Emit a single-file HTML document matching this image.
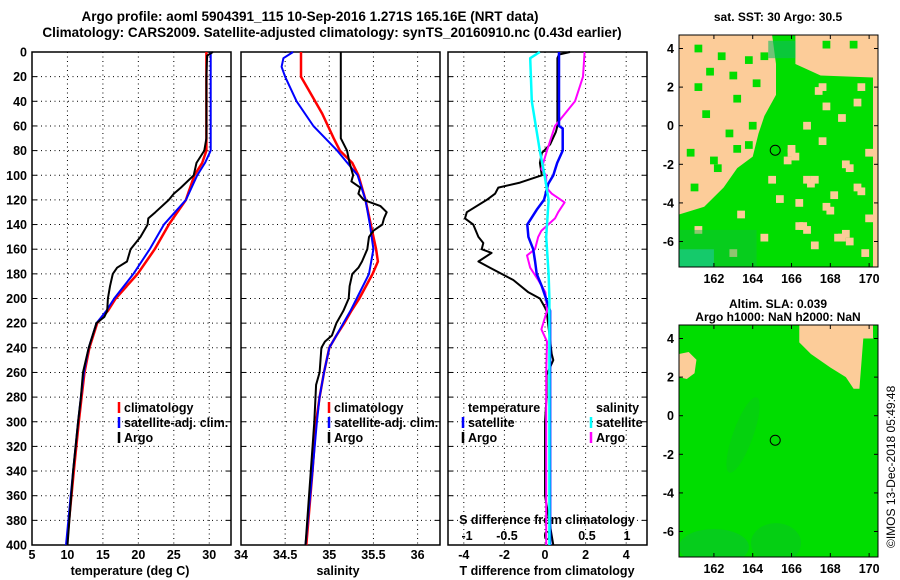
<!DOCTYPE html>
<html><head><meta charset="utf-8">
<style>
html,body{margin:0;padding:0;background:#fff;}
svg{display:block;font-family:"Liberation Sans",Arial,sans-serif;font-weight:bold;}
</style></head>
<body>
<svg id="chart" width="900" height="580" viewBox="0 0 900 580" xmlns="http://www.w3.org/2000/svg">
<defs>
<clipPath id="clipMap1"><rect x="679" y="35" width="199" height="232"/></clipPath>
<clipPath id="clipMap2"><rect x="679" y="325" width="199" height="232"/></clipPath>
</defs>
<g id="static">
<text x="310" y="21" text-anchor="middle" font-size="13.5">Argo profile: aoml 5904391_115 10-Sep-2016 1.271S 165.16E (NRT data)</text>
<text x="332" y="37" text-anchor="middle" font-size="13.5">Climatology: CARS2009. Satellite-adjusted climatology: synTS_20160910.nc (0.43d earlier)</text>
<text x="130" y="575" text-anchor="middle" font-size="12.5">temperature (deg C)</text>
<text x="338" y="575" text-anchor="middle" font-size="12.5">salinity</text>
<text x="547" y="575" text-anchor="middle" font-size="12.5">T difference from climatology</text>
<text x="547" y="524" text-anchor="middle" font-size="12.5">S difference from climatology</text>
</g>
<g id="plots"></g>
<g id="maps"></g>
</svg>
<script>
// ---------- data ----------
const depthTicks=[0,20,40,60,80,100,120,140,160,180,200,220,240,260,280,300,320,340,360,380,400];
const tempTicks=[5,10,15,20,25,30];
const salTicks=[34,34.5,35,35.5,36];
const salTickLabels=["34","34.5","35","35.5","36"];
const tdiffTicks=[-4,-2,0,2,4];
const sdiffTicks=[-1,-0.5,0,0.5,1];
const sdiffTickLabels=["-1","-0.5","0","0.5","1"];

const climTDepth=[0,80,90,100,120,140,160,180,200,210,220,240,260,280,300,340,400];
const climT=[29.6,29.6,29.0,27.9,26.7,24.3,22.3,19.9,16.8,15.7,14.2,13.1,12.4,12.0,11.6,10.9,9.9];
const satTDepth=[0,80,90,100,120,140,160,180,200,210,220,240,260,280,300,340,400];
const satT=[30.2,30.2,29.4,28.3,26.7,23.6,21.6,19.3,16.6,15.5,14.1,13.0,12.3,11.9,11.5,10.8,9.8];
const argoTDepth=[0,3,20,70,80,90,100,110,115,120,130,135,140,150,160,170,175,180,190,200,210,215,220,240,260,280,300,340,400];
const argoT=[30.5,29.7,29.6,29.6,29.3,28.2,27.8,26.0,25.0,24.3,22.4,21.4,21.3,20.3,18.9,18.4,17.0,16.4,16.0,15.7,15.6,15.2,14.1,13.0,12.2,11.9,11.5,10.8,10.0];

const climSDepth=[0,20,30,50,70,80,90,100,120,140,160,170,180,200,210,220,230,240,260,280,300,340,400];
const climS=[34.68,34.68,34.76,34.92,35.05,35.12,35.26,35.33,35.41,35.47,35.53,35.55,35.49,35.34,35.25,35.17,35.08,35.0,34.94,34.89,34.85,34.81,34.74];
const satSDepth=[0,5,12,20,40,60,80,100,120,140,160,180,200,210,220,230,240,260,280,300,340,400];
const satS=[34.59,34.48,34.46,34.5,34.63,34.82,35.09,35.32,35.41,35.46,35.5,35.45,35.31,35.24,35.16,35.08,35.0,34.94,34.89,34.86,34.81,34.73];
const argoSDepth=[0,70,80,90,100,105,110,115,120,125,130,135,140,145,150,160,170,175,180,190,200,210,220,230,235,240,260,270,300,340,400];
const argoS=[35.13,35.13,35.2,35.23,35.27,35.25,35.35,35.33,35.39,35.58,35.65,35.62,35.6,35.5,35.45,35.43,35.37,35.33,35.26,35.23,35.22,35.16,35.08,35.03,34.95,34.91,34.89,34.85,34.83,34.79,34.73];

const satTdDepth=[0,60,62,80,90,100,107,120,128,140,150,160,170,180,190,200,210,400];
const satTd=[0.69,0.69,0.87,0.87,0.6,0.41,0.16,-0.05,-0.41,-0.87,-0.82,-0.58,-0.49,-0.41,-0.16,0.05,0.25,0.25];
const argoTdDepth=[0,2,5,60,65,75,82,90,100,106,110,115,120,130,135,140,150,155,160,163,170,175,185,195,200,205,210,245,250,262,280,300,360,400];
const argoTd=[1.23,0.69,0.61,0.61,0.53,0.25,-0.16,-0.25,-0.16,-1.23,-2.3,-2.46,-2.87,-3.85,-3.94,-3.53,-3.28,-3.04,-3.12,-2.63,-3.28,-2.71,-1.56,-0.82,-0.25,-0.08,0.08,0.33,0.41,0.08,0.08,0.0,0.0,0.41];
const satSdDepth=[0,5,40,80,100,120,150,180,200,400];
const satSd=[-0.09,-0.21,-0.19,-0.09,-0.03,0.02,-0.01,0.02,0.03,0.03];
const argoSdDepth=[0,20,40,60,80,95,100,110,115,122,130,135,145,150,160,165,175,185,195,210,225,235,260,300,400];
const argoSd=[0.47,0.45,0.35,0.1,0.0,-0.07,-0.01,-0.01,0.06,0.22,0.14,0.1,-0.07,-0.11,-0.15,-0.25,-0.21,-0.11,-0.02,0.0,-0.07,0.0,-0.01,-0.01,-0.01];

// ---------- axes ----------
const NS='http://www.w3.org/2000/svg';
const Y0=52,Y1=545;
const yD=d=>Y0+d*(Y1-Y0)/400;
const p1={x0:32,x1:231};
const p2={x0:241,x1:440};
const p3={x0:448,x1:647};
const xT=v=>p1.x0+(v-5)*7.09;
const xS=v=>p2.x0+(v-34)*88.3;
const xTd=v=>545+v*20.3;
const xSd=v=>547+v*80;
const plots=document.getElementById('plots');
function mk(tag,attrs,parent){const e=document.createElementNS(NS,tag);for(const k in attrs)e.setAttribute(k,attrs[k]);(parent||plots).appendChild(e);return e;}

function panel(p,name,xf,ticks,labels,showY){
  const g=mk('g',{});
  
  
  ticks.forEach((t,i)=>{
    const x=xf(t);
    if(x>p.x0+1&&x<p.x1-1){const l=mk('line',{x1:x,x2:x,y1:Y0,y2:Y1,stroke:'#000','stroke-width':1,'stroke-dasharray':'1,3.5'},g);
      
      }
    if(labels){const tx=mk('text',{x:x,y:Y1+14,'text-anchor':'middle','font-size':12.5},g);tx.textContent=labels[i];
      
      }
  });
  depthTicks.forEach(d=>{
    const y=yD(d);
    if(d>0&&d<400){const l=mk('line',{x1:p.x0,x2:p.x1,y1:y,y2:y,stroke:'#000','stroke-width':1,'stroke-dasharray':'1,3.5'},g);
      
      }
    mk('line',{x1:p.x1-5,x2:p.x1,y1:y,y2:y,stroke:'#000','stroke-width':1},g);
    mk('line',{x1:p.x0,x2:p.x0+5,y1:y,y2:y,stroke:'#000','stroke-width':1},g);
    if(showY){const tx=mk('text',{x:27,y:y+4.5,'text-anchor':'end','font-size':12.5},g);tx.textContent=d;
      
      }
  });
  const r=mk('rect',{x:p.x0,y:Y0,width:p.x1-p.x0,height:Y1-Y0,fill:'none',stroke:'#000','stroke-width':1.5},g);
  
  
  return g;
}
function series(g,depths,vals,xf,color,name,w){
  const pts=depths.map((d,i)=>xf(vals[i]).toFixed(1)+','+yD(d).toFixed(1)).join(' ');
  const pl=mk('polyline',{points:pts,fill:'none',stroke:color,'stroke-width':w||2,'stroke-linejoin':'round'},g);
  
  
}
function legend(g,x,y,items){
  items.forEach((it,i)=>{
    const yy=y+i*15;
    if(it[1]){mk('line',{x1:x,x2:x,y1:yy-10,y2:yy+1,stroke:it[1],'stroke-width':2.5},g);}
    const t=mk('text',{x:x+5,y:yy,'font-size':12.5},g);t.textContent=it[0];
    
    
  });
}
const g1=panel(p1,'temperature-panel',xT,tempTicks,tempTicks.map(String),true);
series(g1,climTDepth,climT,xT,'#f00','climatology-temperature-line',2.5);
series(g1,satTDepth,satT,xT,'#00f','satellite-temperature-line',2);
series(g1,argoTDepth,argoT,xT,'#000','argo-temperature-line',2);
legend(g1,119,412,[['climatology','#f00'],['satellite-adj. clim.','#00f'],['Argo','#000']]);

const g2=panel(p2,'salinity-panel',xS,salTicks,salTickLabels,false);
series(g2,climSDepth,climS,xS,'#f00','climatology-salinity-line',2.5);
series(g2,satSDepth,satS,xS,'#00f','satellite-salinity-line',2);
series(g2,argoSDepth,argoS,xS,'#000','argo-salinity-line',2);
legend(g2,329,412,[['climatology','#f00'],['satellite-adj. clim.','#00f'],['Argo','#000']]);

const g3=panel(p3,'difference-panel',xTd,tdiffTicks,tdiffTicks.map(String),false);
sdiffTicks.forEach((s,i)=>{const t=mk('text',{x:xSd(s),y:540,'text-anchor':'middle','font-size':12.5},g3);t.textContent=sdiffTickLabels[i];
  
  });
series(g3,argoTdDepth,argoTd,xTd,'#000','argo-t-difference-line',2);
series(g3,argoSdDepth,argoSd,xSd,'#f0f','argo-s-difference-line',2);
series(g3,satTdDepth,satTd,xTd,'#00f','satellite-t-difference-line',2.5);
series(g3,satSdDepth,satSd,xSd,'#0ff','satellite-s-difference-line',2.5);
legend(g3,463,412,[['temperature',null],['satellite','#00f'],['Argo','#000']]);
legend(g3,591,412,[['salinity',null],['satellite','#0ff'],['Argo','#f0f']]);

// ---------- maps ----------
const maps=document.getElementById('maps');
const lonTicks=[162,164,166,168,170];
const latTicks=[4,2,0,-2,-4,-6];
const argoLon=165.16, argoLat=-1.271;
function mapPanel(y0,name,title1,title2,clip,drawFill){
  const X0=679,X1=878,Y1m=y0+232;
  const xL=l=>X0+(l-160.2)*19.4;
  const yL=l=>y0+(4.7-l)*19.3;
  const g=mk('g',{},maps);
  
  
  const fg=mk('g',{'clip-path':'url(#'+clip+')'},g);
  drawFill(fg,xL,yL,X0,y0,X1,Y1m);
  lonTicks.forEach(l=>{const x=xL(l);
    mk('line',{x1:x,x2:x,y1:Y1m,y2:Y1m-4,stroke:'#000'},g);mk('line',{x1:x,x2:x,y1:y0,y2:y0+4,stroke:'#000'},g);
    const t=mk('text',{x:x,y:Y1m+16,'text-anchor':'middle','font-size':12.5},g);t.textContent=l;
    
    });
  latTicks.forEach(l=>{const y=yL(l);
    mk('line',{x1:X0,x2:X0+4,y1:y,y2:y,stroke:'#000'},g);mk('line',{x1:X1,x2:X1-4,y1:y,y2:y,stroke:'#000'},g);
    const t=mk('text',{x:674,y:y+4.5,'text-anchor':'end','font-size':12.5},g);t.textContent=l;
    
    });
  mk('rect',{x:X0,y:y0,width:X1-X0,height:Y1m-y0,fill:'none',stroke:'#000','stroke-width':1},g);
  const c=mk('circle',{cx:xL(argoLon),cy:yL(argoLat),r:5,fill:'none',stroke:'#000','stroke-width':1},g);
  
  
  const t1=mk('text',{x:778,y:title2?y0-17:y0-14,'text-anchor':'middle','font-size':12},g);t1.textContent=title1;
  
  
  if(title2){const t2=mk('text',{x:778,y:y0-4,'text-anchor':'middle','font-size':12},g);t2.textContent=title2;
    
    }
}
const ORANGE='#fccc99',GREEN='#00dd00';
const C=0.2; // cell size in degrees
mapPanel(35,'sst-map','sat. SST: 30 Argo: 30.5',null,'clipMap1',(g,xL,yL,X0,Y0m,X1,Y1m)=>{
  mk('rect',{x:X0,y:Y0m,width:X1-X0,height:Y1m-Y0m,fill:ORANGE},g);
  const poly=[[165,4.7],[166.2,4.7],[166.2,3.2],[167.5,2.6],[170.2,2.5],[170.2,-7.3],[160.2,-7.3],[160.2,-4.6],[161.5,-4.2],[162.5,-3.2],[163.2,-2.2],[164,-1.6],[164.3,-0.4],[164.6,0.5],[165.2,1.6],[165.2,3.2]];
  mk('polygon',{points:poly.map(p=>xL(p[0])+','+yL(p[1])).join(' '),fill:GREEN},g);
  const holes=[[166.6,-2.6],[166.8,-2.8],[167,-2.6],[168.6,-1.8],[168.8,-2],[166.2,-5],[166.4,-5],[166.6,-5.2],[168.2,-5.6],[168.4,-5.6],[168.6,-5.4],[168.8,-5.8],[167.6,-4],[167.8,-4.2],[169.2,-3],[169.4,-3.2],[161,-5.2],[163.2,-4.4],[167.2,2],[167.4,2.2],[169.2,1.4],[165.8,-1],[165.8,-1.2],[166,-1.4],[165.6,-1.6],[166.6,0.2],[167.4,-0.6],[169.8,-4.6],[169.6,-6.4],[167,-6],[165.2,-3.6],[164.4,-5.6],[162.8,-6.4],[168,-3.4],[166.2,-3.8],[169.8,-1.2],[168.4,0.6],[164.8,-2.6],[167.6,1.2],[169.4,2.2]];
  holes.forEach(h=>mk('rect',{x:xL(h[0]),y:yL(h[1]),width:C*19.4*2,height:C*19.3*2,fill:ORANGE},g));
  const greens=[[163,1.6],[161.6,3],[162.6,-0.2],[161,2.2],[163.6,3.6],[162,-2],[167.6,4.4],[169,4.4],[161.4,0.8],[162.2,3.8],[163.8,0.2],[160.6,-1.2],[161.8,-1.6],[163,-1],[164,2.4],[164.4,3.8],[161,4.2],[162.8,2.8],[160.8,-3],[163.6,-0.8]];
  greens.forEach(h=>mk('rect',{x:xL(h[0]),y:yL(h[1]),width:C*19.4*2,height:C*19.3*2,fill:GREEN},g));
  mk('rect',{x:xL(160.2),y:yL(-5.4),width:4*19.4,height:1.9*19.3,fill:'#10bb40',opacity:0.45},g);
  mk('rect',{x:xL(160.2),y:yL(-6.4),width:1.8*19.4,height:0.9*19.3,fill:'#20c8a0',opacity:0.6},g);
  mk('rect',{x:xL(164.8),y:yL(4.4),width:1.4*19.4,height:0.9*19.3,fill:'#10bb60',opacity:0.6},g);
});
mapPanel(325,'sla-map','Altim. SLA: 0.039','Argo h1000: NaN h2000: NaN','clipMap2',(g,xL,yL,X0,Y0m,X1,Y1m)=>{
  mk('rect',{x:X0,y:Y0m,width:X1-X0,height:Y1m-Y0m,fill:GREEN},g);
  const poly=[[166.4,4.7],[170.2,4.7],[170.2,4],[169.7,4],[169.5,1.4],[169.2,1.4],[168.8,2],[168,2.5],[167,3.2],[166.4,3.8]];
  mk('polygon',{points:poly.map(p=>xL(p[0])+','+yL(p[1])).join(' '),fill:ORANGE},g);
  const poly2=[[160.2,3.2],[160.7,3.3],[161.1,2.9],[161,2.2],[160.6,1.9],[160.2,2]];
  mk('polygon',{points:poly2.map(p=>xL(p[0])+','+yL(p[1])).join(' '),fill:ORANGE},g);
  mk('ellipse',{cx:xL(163.5),cy:yL(-1),rx:10,ry:40,fill:'#10bb30',opacity:0.3,transform:'rotate(20 '+xL(163.5)+' '+yL(-1)+')'},g);
  mk('ellipse',{cx:xL(162),cy:yL(-6.8),rx:35,ry:18,fill:'#10b050',opacity:0.35},g);
  mk('ellipse',{cx:xL(165.2),cy:yL(-6.6),rx:25,ry:20,fill:'#10b040',opacity:0.3},g);
});
const cr=mk('text',{x:895,y:548,'font-size':12,'font-weight':'normal',transform:'rotate(-90 895 548)'},maps);
cr.textContent='©IMOS 13-Dec-2018 05:49:48';


</script>
</body></html>
